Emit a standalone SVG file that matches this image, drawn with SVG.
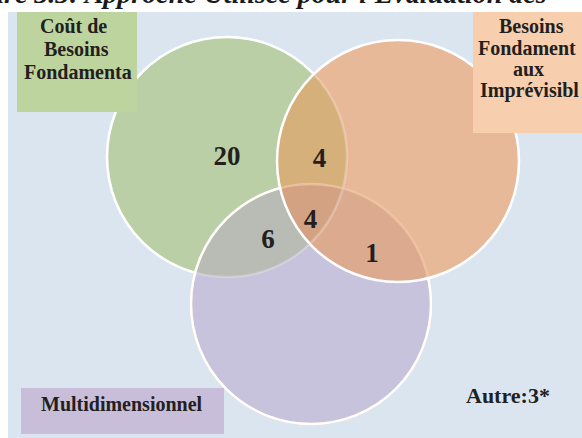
<svg xmlns="http://www.w3.org/2000/svg" width="582" height="438" viewBox="0 0 582 438">
  <style>
    .lbl { font-family: "Liberation Serif", "Times New Roman", serif; font-weight: bold; fill: #231f20; }
    .box { font-size: 20px; }
    .num { font-size: 27px; text-anchor: middle; }
    .title { font-family: "Liberation Serif", "Times New Roman", serif; font-weight: bold; font-style: italic; font-size: 28px; fill: #1a1a1a; }
  </style>
  <defs>
    <clipPath id="clipG"><circle cx="227" cy="157" r="120"/></clipPath>
    <clipPath id="clipO"><circle cx="398" cy="161" r="121"/></clipPath>
    <mask id="mOutOP" maskUnits="userSpaceOnUse" x="0" y="0" width="582" height="438">
      <rect x="0" y="0" width="582" height="438" fill="#fff"/>
      <circle cx="398" cy="161" r="121" fill="#000"/>
      <circle cx="311" cy="304" r="120" fill="#000"/>
    </mask>
    <mask id="mOutO" maskUnits="userSpaceOnUse" x="0" y="0" width="582" height="438">
      <rect x="0" y="0" width="582" height="438" fill="#fff"/>
      <circle cx="398" cy="161" r="121" fill="#000"/>
    </mask>
  </defs>

  <rect x="0" y="0" width="582" height="438" fill="#ffffff"/>
  <text class="title" x="-52" y="3">Figure 3.3: Approche Utilisée pour l'Évaluation des</text>
  <rect x="8" y="12" width="574" height="426" fill="#dbe5f0"/>

  <g id="circles">
    <circle id="circle-green" cx="227" cy="157" r="120" fill="#bacfa6"/>
    <circle id="circle-purple" cx="311" cy="304" r="120" fill="#c8c3dc"/>
    <circle id="circle-orange" cx="398" cy="161" r="121" fill="#e8b998"/>
    <circle cx="398" cy="161" r="121" fill="#d6b07b" clip-path="url(#clipG)"/>
    <circle cx="311" cy="304" r="120" fill="#b9bbb5" clip-path="url(#clipG)"/>
    <circle cx="311" cy="304" r="120" fill="#dcab8f" clip-path="url(#clipO)"/>
    <g clip-path="url(#clipG)">
      <circle cx="311" cy="304" r="120" fill="#d3a283" clip-path="url(#clipO)"/>
    </g>
    <g fill="none" stroke-width="2.5">
      <circle cx="227" cy="157" r="120" stroke="#ffffff" stroke-opacity="0.25"/>
      <circle cx="227" cy="157" r="120" stroke="#ffffff" mask="url(#mOutOP)"/>
      <circle cx="311" cy="304" r="120" stroke="#f2c9a8" stroke-opacity="0.7"/>
      <circle cx="311" cy="304" r="120" stroke="#ffffff" mask="url(#mOutO)"/>
      <circle cx="398" cy="161" r="121" stroke="#ffffff"/>
    </g>
  </g>

  <g id="counts" class="lbl">
    <text class="lbl num" x="227" y="165">20</text>
    <text class="lbl num" x="319.5" y="167">4</text>
    <text class="lbl num" x="310.5" y="228">4</text>
    <text class="lbl num" x="268" y="248">6</text>
    <text class="lbl num" x="372" y="262">1</text>
  </g>

  <g id="node-cout">
    <rect x="17" y="12" width="120" height="100" fill="#bed49f"/>
    <text class="lbl box" x="40" y="33">Coût de</text>
    <text class="lbl box" x="44" y="56">Besoins</text>
    <text class="lbl box" x="24" y="79">Fondamenta</text>
  </g>

  <g id="node-imprevisibles">
    <rect x="473" y="12" width="109" height="121" fill="#f7cfae"/>
    <text class="lbl box" x="499" y="33">Besoins</text>
    <text class="lbl box" x="478" y="55">Fondament</text>
    <text class="lbl box" x="513" y="76">aux</text>
    <text class="lbl box" x="480" y="97">Imprévisibl</text>
  </g>

  <g id="node-multi">
    <rect x="21" y="388" width="203" height="46" fill="#c9bed9"/>
    <text class="lbl box" x="41" y="411">Multidimensionnel</text>
  </g>

  <g id="node-autre">
    <text class="lbl" x="466" y="403" font-size="22">Autre:3*</text>
  </g>
</svg>
